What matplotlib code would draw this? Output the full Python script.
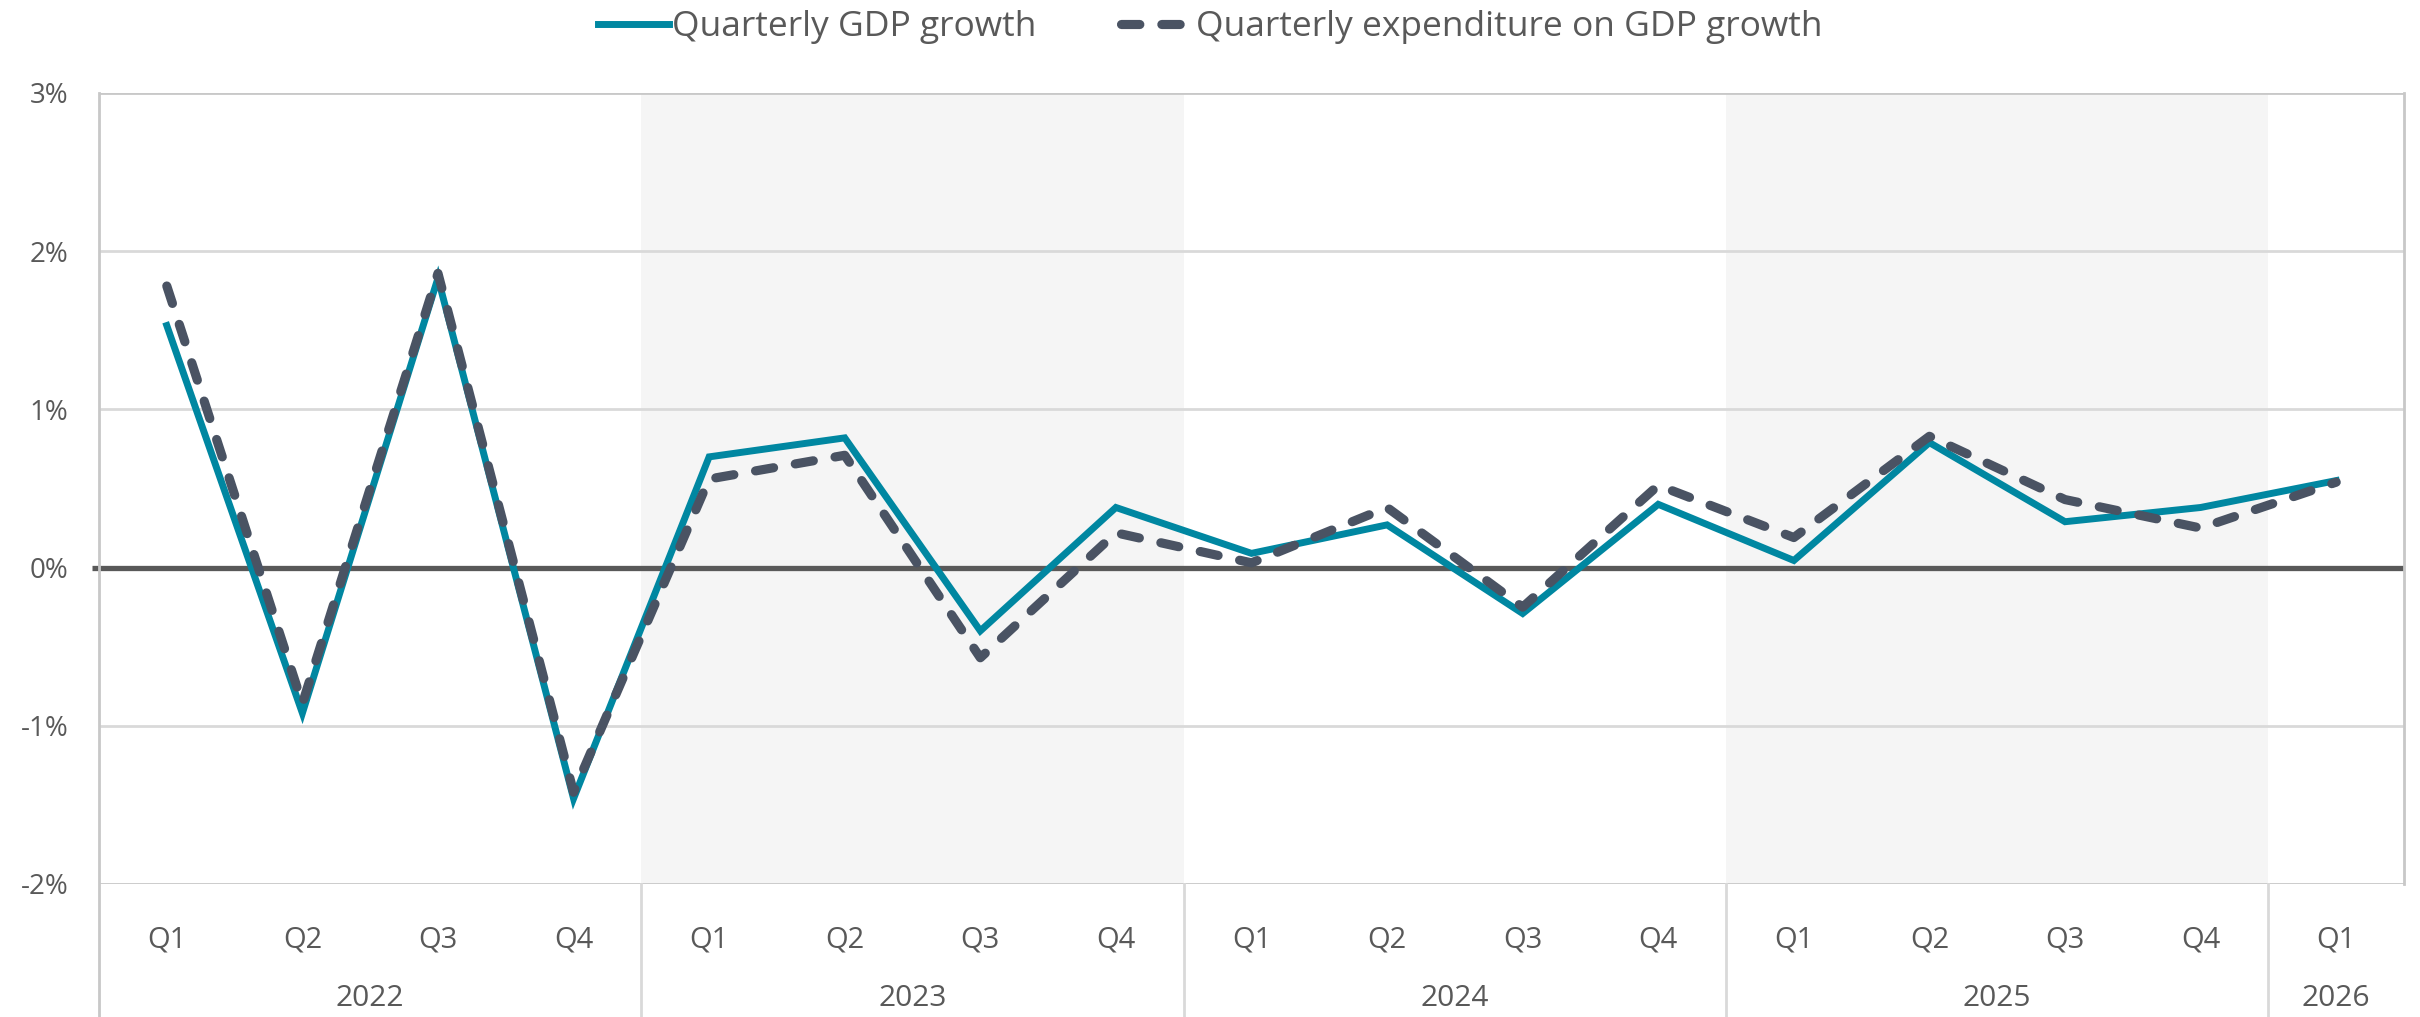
import numpy as np
import matplotlib
matplotlib.use("Agg")
import matplotlib.pyplot as plt
import matplotlib.transforms as mtransforms

plt.rcParams['font.family'] = ['Open Sans', 'DejaVu Sans']

quarters = ['Q1', 'Q2', 'Q3', 'Q4'] * 4 + ['Q1']
years = ['2022', '2023', '2024', '2025', '2026']
year_counts = [4, 4, 4, 4, 1]
shaded_years = ['2023', '2025']

gdp_growth = [1.53, -0.92, 1.83, -1.46, 0.70, 0.82, -0.40, 0.38,
              0.09, 0.27, -0.29, 0.40, 0.045, 0.79, 0.29, 0.38, 0.55]
exp_growth = [1.78, -0.86, 1.86, -1.42, 0.56, 0.71, -0.57, 0.22,
              0.03, 0.38, -0.25, 0.52, 0.19, 0.83, 0.43, 0.25, 0.54]

yticks = [-2, -1, 0, 1, 2, 3]
ytick_labels = ['-2%', '-1%', '0%', '1%', '2%', '3%']

text_col = '#595959'
teal = '#0087A1'
slate = '#4A5363'

W, H = 2420, 1017
fig = plt.figure(figsize=(W / 100, H / 100), dpi=100)
left, right, top, bottom = 99, 2404, 93, 884
ax = fig.add_axes([left / W, 1 - bottom / H, (right - left) / W, (bottom - top) / H])

x = np.arange(len(quarters))
ax.set_xlim(-0.5, len(quarters) - 0.5)
ax.set_ylim(-2, 3)

# shaded years
start = 0
for yr, n in zip(years, year_counts):
    if yr in shaded_years:
        ax.axvspan(start - 0.5, start + n - 0.5, color='#F5F5F5', zorder=0, lw=0)
    start += n

for v in yticks:
    if v == 0:
        continue
    col = '#C8C8C8' if v in (-2, 3) else '#D9D9D9'
    ax.axhline(v, color=col, lw=2.0, zorder=1)
ax.plot([-0.55, len(quarters) - 0.5], [0, 0], color=text_col, lw=3.8, zorder=2,
        clip_on=False, solid_capstyle='butt')

ax.plot(x, gdp_growth, color=teal, lw=5.0, zorder=3, solid_joinstyle='miter',
        label='Quarterly GDP growth')
ax.plot(x, exp_growth, color=slate, lw=6.6, zorder=4, dash_capstyle='round',
        dashes=(2.0, 2.4), label='Quarterly expenditure on GDP growth')

for s in ax.spines.values():
    s.set_visible(False)
ax.plot([1, 1], [0, 1], transform=ax.transAxes, color='#C8C8C8', lw=2.0, clip_on=False)

ax.set_yticks(yticks)
ax.set_yticklabels(ytick_labels)
ax.set_xticks(x)
ax.set_xticklabels(quarters)
ax.tick_params(length=0, labelsize=21, labelcolor=text_col)
ax.tick_params(axis='x', pad=30)
ax.tick_params(axis='y', labelsize=20, pad=22)

# year labels and separators under the axis
trans = mtransforms.blended_transform_factory(ax.transData, ax.transAxes)
axis_h = bottom - top
low = -(H - bottom) / axis_h
ax.plot([-0.5, -0.5], [1, low], transform=trans, color='#C8C8C8', lw=2.0, clip_on=False)
start = 0
for yr, n in zip(years, year_counts):
    ax.text(start + (n - 1) / 2, -(998 - bottom) / axis_h, yr, transform=trans,
            ha='center', va='center', fontsize=21.5, color=text_col)
    start += n
    if start < len(quarters):
        ax.plot([start - 0.5, start - 0.5], [0, low], transform=trans,
                color='#D9D9D9', lw=2.0, clip_on=False)

fig.legend(loc='center', bbox_to_anchor=(0.5, 1 - 27 / H), ncol=2, frameon=False,
           fontsize=25.5, labelcolor=text_col, handlelength=2.0, handletextpad=0.1,
           columnspacing=2.4)

fig.savefig('out.png', dpi=100)
